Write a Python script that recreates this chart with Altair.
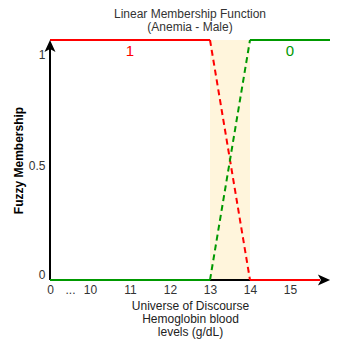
import altair as alt
import pandas as pd

# --- data ---
red_x = [9, 13, 14, 15.75]
red_y = [1, 1, 0, 0]
green_x = [9, 13, 14, 16]
green_y = [0, 0, 1, 1]
dashed_segment = 1  # the segment between 13 and 14

band_start, band_end = 13, 14
x_tick_values = [9, 9.5, 10, 11, 12, 13, 14, 15]
y_tick_values = [0, 0.5, 1]

label_text = ["1", "0"]
label_x = [11, 15]
label_y = [0.955, 0.955]
label_series = ["red", "green"]

FONT = "Liberation Sans"

rows = []
for name, xs, ys in [("red", red_x, red_y), ("green", green_x, green_y)]:
    for i in range(len(xs) - 1):
        style = "dashed" if i == dashed_segment else "solid"
        for j in (i, i + 1):
            rows.append({"series": name, "seg": f"{name}{i}", "style": style,
                         "x": xs[j], "y": ys[j]})
lines_df = pd.DataFrame(rows)

xscale = alt.Scale(domain=[9, 16], nice=False, zero=False)
yscale = alt.Scale(domain=[0, 1], nice=False, zero=False)

xaxis = alt.Axis(values=x_tick_values, grid=False, domain=False, ticks=False, tickSize=0,
                 labelPadding=4, labelFont=FONT, labelFontSize=12, labelColor="#333333",
                 labelOverlap=False, labelFlush=False, labelBound=False,
                 labelExpr="datum.value == 9 ? '0' : datum.value == 9.5 ? '...' : datum.label",
                 title=["Universe of Discourse", "Hemoglobin blood", "levels (g/dL)"],
                 titleFont=FONT, titleFontSize=12, titleFontWeight="normal", titleColor="#222222",
                 titleBaseline="top", titleY=20, titleLineHeight=13)
yaxis = alt.Axis(values=y_tick_values, grid=False, domain=False, ticks=False, tickSize=0,
                 format="~g", labelPadding=5, labelFont=FONT, labelFontSize=12,
                 labelColor="#333333", labelFlush=True, labelFlushOffset=-4, labelOffset=5,
                 labelOverlap=False,
                 title="Fuzzy Membership", titleFont=FONT, titleFontSize=12,
                 titleFontWeight="bold", titleColor="#000000",
                 titleX=-32, titleY=120, titleBaseline="middle", titleAlign="center")

X = lambda: alt.X("x:Q", scale=xscale, axis=xaxis)
Y = lambda: alt.Y("y:Q", scale=yscale, axis=yaxis)

band = alt.Chart(pd.DataFrame({"x": [band_start], "x2": [band_end], "y": [0], "y2": [1]})).mark_rect(
    color="#FFF5DC").encode(x=X(), x2="x2", y=Y(), y2="y2")

axis_df = pd.DataFrame({"x": [9, 9], "x2": [15.75, 9], "y": [0, 0], "y2": [0, 0.97]})
axis_lines = alt.Chart(axis_df).mark_rule(color="black", strokeWidth=2).encode(
    x=X(), x2="x2", y=Y(), y2="y2")

lines = alt.Chart(lines_df).mark_line(strokeWidth=2).encode(
    x=X(), y=Y(),
    detail="seg:N",
    color=alt.Color("series:N", scale=alt.Scale(domain=["red", "green"], range=["#FF0000", "#009900"]), legend=None),
    strokeDash=alt.StrokeDash("style:N", scale=alt.Scale(domain=["solid", "dashed"], range=[[1, 0], [6, 4]]), legend=None),
)

arrow_right = alt.Chart(pd.DataFrame({"x": [15.85], "y": [0]})).mark_point(
    filled=True, color="black", opacity=1, size=150,
    shape="M 1 0 L -1 -0.9 L -0.5 0 L -1 0.9 Z").encode(x=X(), y=Y())
arrow_up = alt.Chart(pd.DataFrame({"x": [9], "y": [0.975]})).mark_point(
    filled=True, color="black", opacity=1, size=150,
    shape="M 0 -1 L -0.9 1 L 0 0.5 L 0.9 1 Z").encode(x=X(), y=Y())

labels = alt.Chart(pd.DataFrame({"t": label_text, "x": label_x, "y": label_y, "s": label_series})).mark_text(
    font=FONT, fontSize=15, baseline="middle", align="center").encode(
    x=X(), y=Y(), text="t:N",
    color=alt.Color("s:N", scale=alt.Scale(domain=["red", "green"], range=["#FF2020", "#009900"]), legend=None))

chart = alt.layer(band, axis_lines, lines, arrow_right, arrow_up, labels).properties(
    width=280, height=240,
    title=alt.TitleParams(["Linear Membership Function", "(Anemia - Male)"], font=FONT, fontSize=12,
                          fontWeight="normal", color="#333333", anchor="middle", offset=6,
                          lineHeight=13, dy=4),
    autosize=alt.AutoSizeParams(type="none"),
    padding={"left": 42, "top": 32, "right": 2, "bottom": 59},
).configure_view(stroke=None).configure_axis(labelOverlap=False)

chart.save("out.html", embed_options={"renderer": "svg", "actions": False})
